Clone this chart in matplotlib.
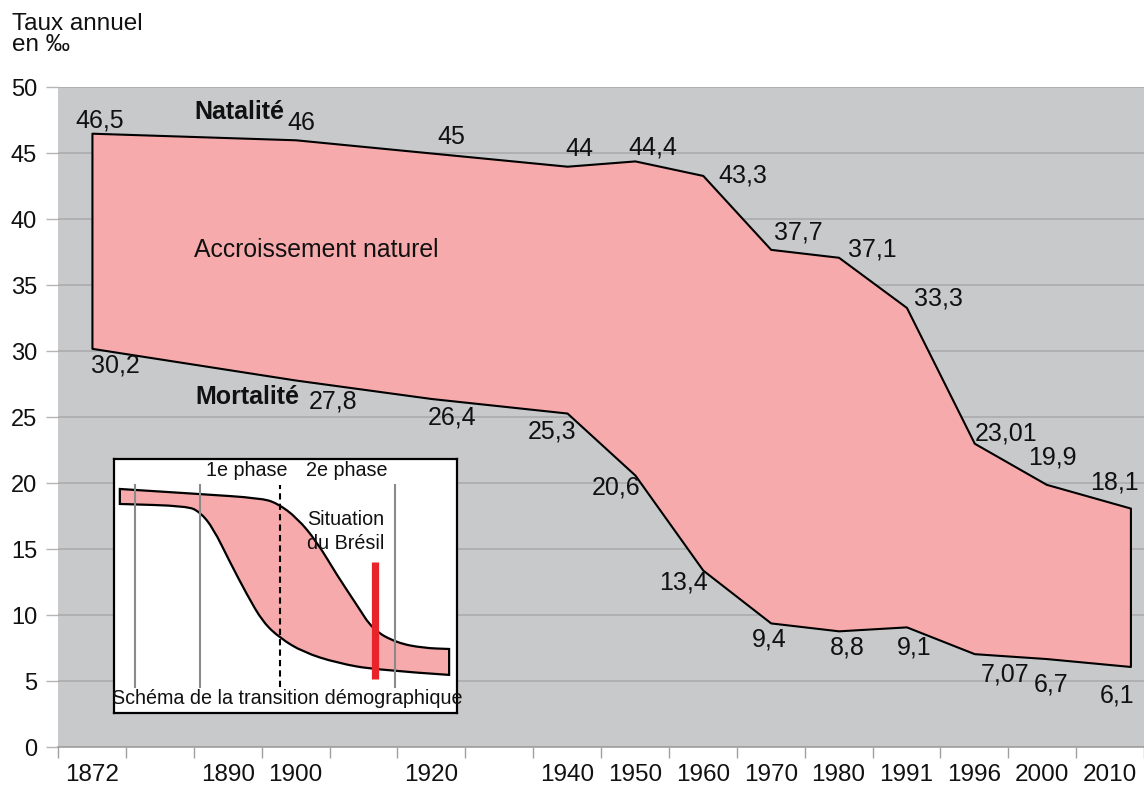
import numpy as np
import matplotlib
matplotlib.use("Agg")
import matplotlib.pyplot as plt
from matplotlib.path import Path
from matplotlib.patches import PathPatch

# ---------------- data ----------------
years = [1872, 1900, 1920, 1940, 1950, 1960, 1970, 1980, 1991, 1996, 2000, 2010]
natalite = [46.5, 46, 45, 44, 44.4, 43.3, 37.7, 37.1, 33.3, 23.01, 19.9, 18.1]
mortalite = [30.2, 27.8, 26.4, 25.3, 20.6, 13.4, 9.4, 8.8, 9.1, 7.07, 6.7, 6.1]

category_years = [1872, 1880, 1890, 1900, 1910, 1920, 1930, 1940, 1950,
                  1960, 1970, 1980, 1991, 1996, 2000, 2010]
tick_label_years = [1872, 1890, 1900, 1920, 1940, 1950, 1960, 1970, 1980,
                    1991, 1996, 2000, 2010]
y_ticks = list(range(0, 51, 5))

# schematic inset (demographic transition) (0-100 box units)
schema_birth_x = [1.7, 25.1, 42.6, 47.5, 53.4, 59.2, 65.0, 70.8, 75.5, 82.5, 90.1, 97.7]
schema_birth_y = [88.2, 86.2, 84.6, 82.7, 76.8, 67.3, 54.3, 42.5, 32.7, 27.6, 25.6, 25.2]
schema_death_x = [1.7, 21.3, 25.1, 28.9, 33.8, 38.8, 43.4, 48.4, 55.1, 65.0, 76.7, 97.7]
schema_death_y = [82.3, 81.5, 79.1, 72.8, 59.4, 46.5, 35.8, 29.5, 24.0, 19.7, 16.9, 15.0]

# ---------------- layout / style ----------------
# slot position of each category on the axis (Excel-like category axis)
slot_years = [1864] + category_years + [2020]
slot_pos = [-1] + list(range(14)) + [14.06, 15.3] + [16.3]

nat_offsets = [(8, 13), (6, 17), (20, 16), (12, 17), (18, 13), (40, 0), (28, 17),
               (34, 8), (32, 9), (32, 10), (6, 27), (-16, 26)]
mort_offsets = [(23, -17), (37, -21), (21, -19), (-15, -18), (-19, -12), (-19, -12),
                (-1, -17), (9, -17), (8, -21), (31, -21), (5, -26), (-13, -29)]

BG = "#c8c9cb"
PINK = "#f7aaab"
GRID = "#a9a9ab"
TXT = "#111111"
FS = 18

plt.rcParams["font.family"] = ["Liberation Sans", "DejaVu Sans"]


def fwd(x):
    return np.interp(x, slot_years, slot_pos)


def inv(p):
    return np.interp(p, slot_pos, slot_years)


def fmt(v):
    return f"{v:g}".replace(".", ",")


fig = plt.figure(figsize=(11.44, 7.91), dpi=100)
ax = fig.add_axes([58 / 1144, 44 / 791, 1086 / 1144, 660 / 791])
ax.set_xscale("function", functions=(fwd, inv))
ax.set_facecolor(BG)
ax.set_xlim(inv(-0.5), inv(15.45))
ax.set_ylim(0, 50)

# grid
ax.set_yticks(y_ticks)
ax.yaxis.grid(True, color=GRID, linewidth=1.1)
ax.set_axisbelow(True)
ax.tick_params(axis="y", length=9, color="#b5b5b5", width=1.0, pad=6,
               labelsize=17, labelcolor=TXT)
for s in ["top", "right", "left"]:
    ax.spines[s].set_visible(False)
ax.spines["bottom"].set_color("#a0a0a0")
ax.spines["bottom"].set_linewidth(1.2)

# x ticks: labels at category slots, marks at slot boundaries
label_slots = [category_years.index(y) for y in tick_label_years]
ax.set_xticks(inv(np.array(label_slots, dtype=float)),
              [str(y) for y in tick_label_years])
ax.set_xticks(inv(np.arange(17) - 0.5), minor=True)
ax.tick_params(axis="x", which="major", length=0, pad=12, labelsize=17.5,
               labelcolor=TXT)
ax.tick_params(axis="x", which="minor", length=8, color="#a0a0a0", width=1.0)

# area between the two rates
ax.fill_between(years, mortalite, natalite, facecolor=PINK, edgecolor="black",
                linewidth=1.5, zorder=3)

# data labels
for x, v, (dx, dy) in zip(years, natalite, nat_offsets):
    ax.annotate(fmt(v), (x, v), xytext=(dx, dy), textcoords="offset pixels",
                ha="center", va="center", fontsize=FS, color=TXT, zorder=5)
for x, v, (dx, dy) in zip(years, mortalite, mort_offsets):
    ax.annotate(fmt(v), (x, v), xytext=(dx, dy), textcoords="offset pixels",
                ha="center", va="center", fontsize=FS, color=TXT, zorder=5)

ax.text(1891.7, 48.1, "Natalité", fontsize=18, fontweight="bold", color=TXT,
        ha="center", va="center", zorder=5)
ax.text(1892.9, 26.5, "Mortalité", fontsize=18, fontweight="bold", color=TXT,
        ha="center", va="center", zorder=5)
ax.text(1903, 37.65, "Accroissement naturel", fontsize=17.8, color=TXT,
        ha="center", va="center", zorder=5)

fig.text(12 / 1144, 1 - 13 / 791, "Taux annuel\nen ‰", fontsize=17.5,
         ha="left", va="top", linespacing=0.92, color=TXT)

# ---------------- inset ----------------
ins = fig.add_axes([114 / 1144, 78 / 791, 343 / 1144, 254 / 791])
ins.set_xlim(0, 100)
ins.set_ylim(0, 100)
ins.set_xticks([])
ins.set_yticks([])
ins.set_facecolor("white")
for s in ins.spines.values():
    s.set_color("black")
    s.set_linewidth(1.6)
ins.set_zorder(6)


def smooth(xs, ys):
    verts = [(xs[0], ys[0])]
    codes = [Path.LINETO]
    for i in range(1, len(xs) - 1):
        mid = ((xs[i] + xs[i + 1]) / 2, (ys[i] + ys[i + 1]) / 2)
        verts += [(xs[i], ys[i]), mid]
        codes += [Path.CURVE3, Path.CURVE3]
    verts.append((xs[-1], ys[-1]))
    codes.append(Path.LINETO)
    return verts, codes


tv, tc = smooth(schema_birth_x, schema_birth_y)
bv, bc = smooth(schema_death_x[::-1], schema_death_y[::-1])
verts = tv + bv + [tv[0]]
codes = [Path.MOVETO] + tc[1:] + [Path.LINETO] + bc[1:] + [Path.CLOSEPOLY]
ins.add_patch(PathPatch(Path(verts, codes), facecolor=PINK, edgecolor="black",
                        linewidth=1.6, zorder=2))

for xv in [6.1, 25.1, 81.9]:
    ins.plot([xv, xv], [10.2, 89.8], color="#8a8a8a", linewidth=1.5, zorder=3)
ins.plot([48.4, 48.4], [10.2, 89.8], color="black", linewidth=1.5,
         linestyle=(0, (3, 2)), zorder=3)
ins.plot([76.1, 76.1], [13.4, 59.4], color="#e8232a", linewidth=5.2,
         solid_capstyle="butt", zorder=4)

IFS = 14.2
ins.text(38.8, 95.3, "1e phase", fontsize=IFS, ha="center", va="center", color=TXT)
ins.text(67.9, 95.3, "2e phase", fontsize=IFS, ha="center", va="center", color=TXT)
ins.text(67.6, 76.0, "Situation", fontsize=IFS, ha="center", va="center", color=TXT)
ins.text(67.6, 66.9, "du Brésil", fontsize=IFS, ha="center", va="center", color=TXT)
ins.text(50.4, 5.9, "Schéma de la transition démographique", fontsize=IFS,
         ha="center", va="center", color=TXT)

fig.savefig("out.png", dpi=100)
